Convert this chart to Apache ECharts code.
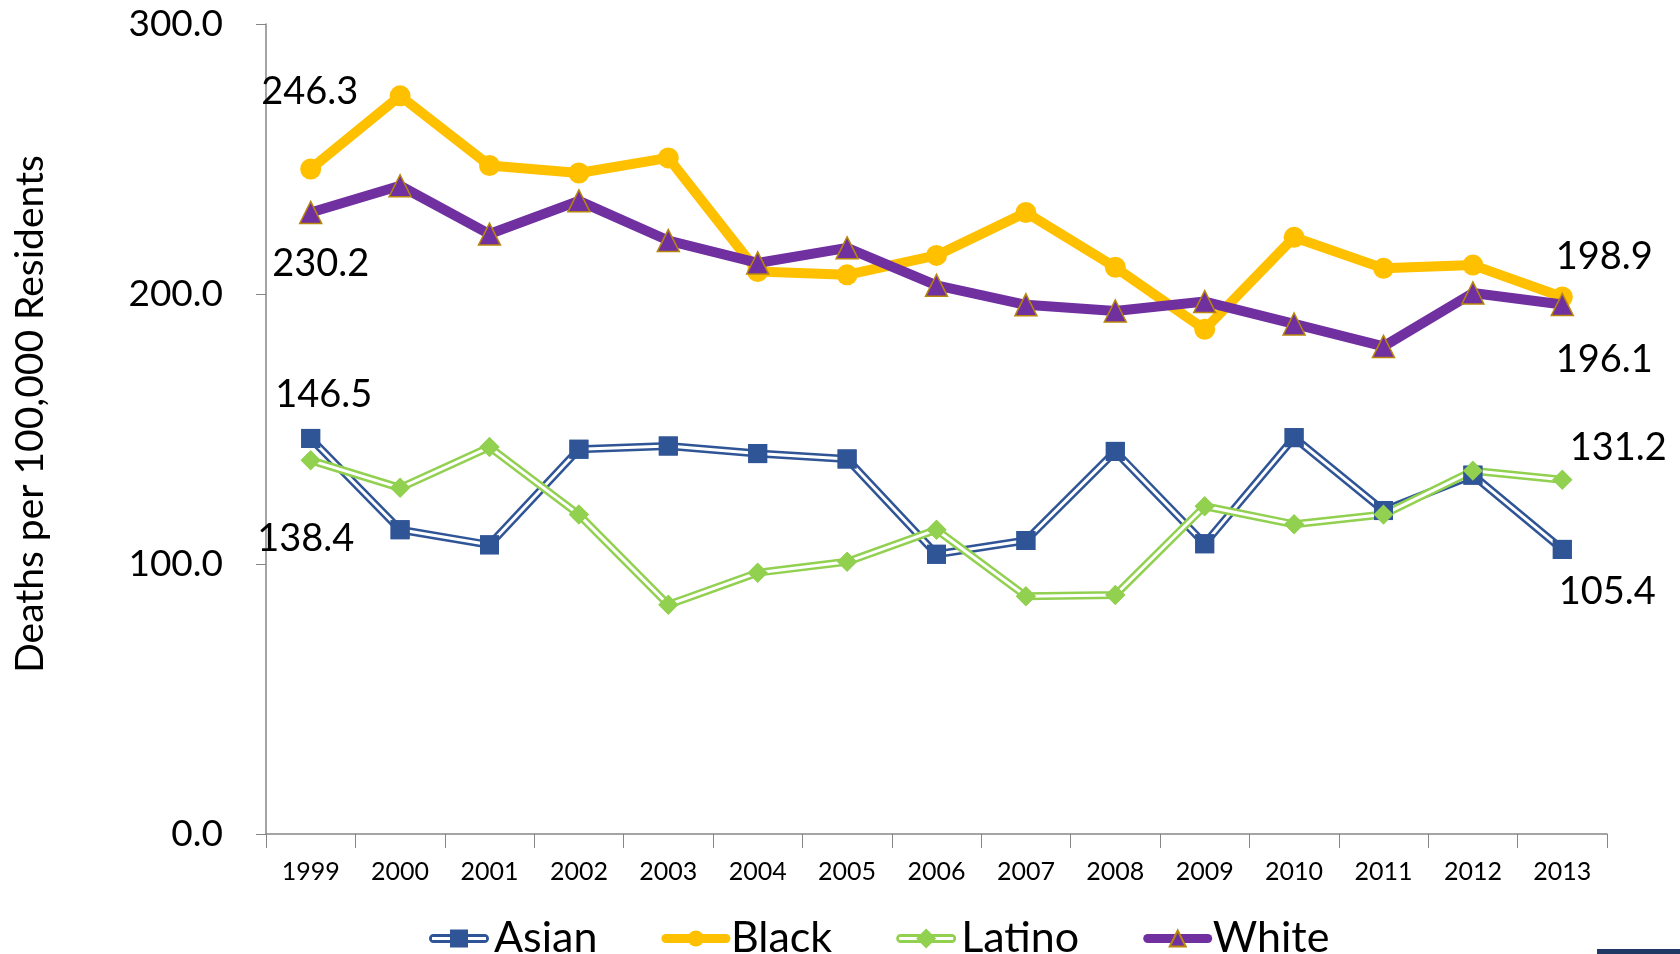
<!DOCTYPE html>
<html>
<head>
<meta charset="utf-8">
<script src="https://cdn.jsdelivr.net/npm/echarts@6/dist/echarts.min.js"></script>
<style>html,body{margin:0;padding:0;background:#fff}#c{width:1680px;height:954px}</style>
</head>
<body>
<div id="c"></div>
<script>
var years = ['1999','2000','2001','2002','2003','2004','2005','2006','2007','2008','2009','2010','2011','2012','2013'];
var asian = [146.5,112.7,107.1,142.5,143.7,140.9,138.9,103.6,108.7,141.7,107.5,146.8,119.8,132.9,105.4];
var black = [246.3,273.4,247.6,244.8,250.4,208.3,207.1,214.3,230.2,209.9,186.9,221.0,209.5,210.7,198.9];
var latino = [138.4,128.2,143.3,118.3,84.9,96.8,100.8,112.7,88.1,88.5,121.4,114.7,118.3,134.5,131.2];
var white = [230.2,240.1,222.2,234.5,219.8,211.5,217.1,203.2,196.0,193.7,197.2,188.9,180.6,200.4,196.1];
var yTicks = [0,100,200,300];

var FONT = 'Lato';
var BLUE = '#2F5597', GOLD = '#FFC000', GREEN = '#92D050', PURPLE = '#7030A0';

// legend icons: double line capsule with a marker in the middle
var capsule = 'M4.5,5.5 H55.5 A4.5,4.5 0 0 1 55.5,14.5 H4.5 A4.5,4.5 0 0 1 4.5,5.5 Z M3,8.5 V11.5 H57 V8.5 Z ';
var asianIcon = 'path://' + capsule + 'M21,1 H39 V19 H21 Z';
var latinoIcon = 'path://' + capsule + 'M30,0 L40,10 L30,20 L20,10 Z';

function labeled(arr, firstOff, lastOff) {
  return arr.map(function (v, i) {
    var item = { value: v };
    var off = i === 0 ? firstOff : (i === arr.length - 1 ? lastOff : null);
    if (off) {
      item.label = { show: true, position: 'inside', offset: off, align: 'center', verticalAlign: 'middle',
        formatter: function (p) { return p.value.toFixed(1); },
        color: '#000', fontSize: 38, fontFamily: FONT };
    }
    return item;
  });
}

function doubleLine(name, arr, color, symbol, size, firstOff, lastOff) {
  return [
    { name: name, type: 'line', data: arr, symbol: symbol, symbolSize: size, showSymbol: true,
      lineStyle: { color: color, width: 8 }, itemStyle: { color: color }, z: 2 },
    { name: name, type: 'line', data: arr, symbol: 'none',
      lineStyle: { color: '#fff', width: 3 }, z: 2 },
    { name: name, type: 'line', data: labeled(arr, firstOff, lastOff), symbol: symbol, symbolSize: size,
      lineStyle: { width: 0, opacity: 0 }, itemStyle: { color: color }, z: 3 }
  ];
}

var series = [];
series = series.concat(doubleLine('Asian', asian, BLUE, 'rect', 19, [13, -44], [45, 42]));
series.push({ name: 'Black', type: 'line', data: labeled(black, [-1, -77], [42, -40]), symbol: 'circle', symbolSize: 21,
  lineStyle: { color: GOLD, width: 10 }, itemStyle: { color: GOLD }, z: 4 });
series = series.concat(doubleLine('Latino', latino, GREEN, 'diamond', 20, [-5, 78], [56, -32]));
series.push({ name: 'White', type: 'line', data: labeled(white, [10, 51], [42, 55]), symbol: 'triangle', symbolSize: 22,
  lineStyle: { color: PURPLE, width: 10 }, itemStyle: { color: PURPLE, borderColor: '#B8860B', borderWidth: 1.5 }, z: 6 });

var chart = echarts.init(document.getElementById('c'));
chart.setOption({
  animation: false,
  backgroundColor: '#fff',
  grid: { left: 266, right: 73, top: 24, bottom: 120 },
  legend: {
    data: [
      { name: 'Asian', icon: asianIcon },
      { name: 'Black', lineStyle: { width: 9, cap: 'round' } },
      { name: 'Latino', icon: latinoIcon },
      { name: 'White', lineStyle: { width: 9, cap: 'round' } }
    ],
    bottom: -11, left: 424, itemWidth: 60, itemHeight: 20, itemGap: 64,
    textStyle: { fontSize: 43, fontFamily: FONT, color: '#000' }
  },
  xAxis: {
    type: 'category', data: years, boundaryGap: true,
    axisLine: { lineStyle: { color: '#868686', width: 1.5 } },
    axisTick: { show: true, length: 14, lineStyle: { color: '#868686' } },
    axisLabel: { fontSize: 25, fontFamily: FONT, color: '#000', margin: 25 }
  },
  yAxis: {
    type: 'value', min: yTicks[0], max: yTicks[yTicks.length - 1], interval: 100,
    splitLine: { show: false },
    axisLine: { show: true, lineStyle: { color: '#868686', width: 1.5 } },
    axisTick: { show: true, length: 10, lineStyle: { color: '#868686' } },
    axisLabel: { fontSize: 37, fontFamily: FONT, color: '#000', margin: 43,
      formatter: function (v) { return v.toFixed(1); } }
  },
  graphic: [
    { type: 'text', x: 30, y: 414, rotation: Math.PI / 2,
      style: { text: 'Deaths per 100,000 Residents', fontSize: 39, fontFamily: FONT, fill: '#000',
        align: 'center', verticalAlign: 'middle' } },
    { type: 'rect', shape: { x: 1597, y: 949, width: 83, height: 5 }, style: { fill: '#1F3864' } }
  ],
  series: series
});
</script>
</body>
</html>
